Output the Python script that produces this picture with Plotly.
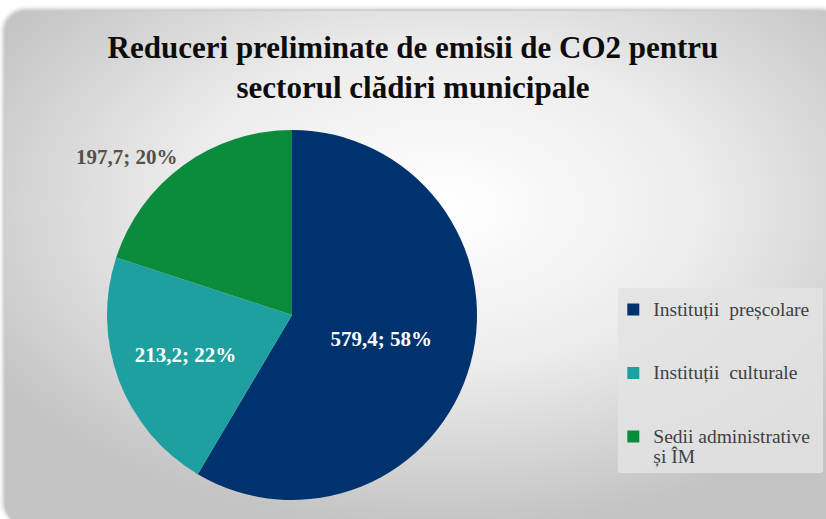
import base64
import plotly.graph_objects as go

# ---- data ----
labels = ["Instituții  preșcolare", "Instituții  culturale", "Sedii administrative<br>și ÎM"]
values = [579.4, 213.2, 197.7]
value_text = ["579,4", "213,2", "197,7"]
percent_text = ["58%", "22%", "20%"]
colors = ["#00336E", "#1FA0A0", "#0B8C3C"]
title_lines = ["Reduceri preliminate de emisii de CO2 pentru", "sectorul clădiri municipale"]

W, H = 826, 519

# background card with radial gradient (decoration)
svg = f'''<svg xmlns="http://www.w3.org/2000/svg" width="{W}" height="{H}" viewBox="0 0 {W} {H}">
<defs>
<radialGradient id="g" cx="0.52" cy="0.38" r="0.62">
<stop offset="0" stop-color="#FFFFFF"/>
<stop offset="0.5" stop-color="#ECECEC"/>
<stop offset="1" stop-color="#C4C4C4"/>
</radialGradient>
<filter id="s" x="-5%" y="-5%" width="110%" height="110%"><feGaussianBlur stdDeviation="2"/></filter>
</defs>
<rect x="3" y="9" width="840" height="515" rx="22" ry="22" fill="#BDBDBD" filter="url(#s)"/>
<rect x="5" y="11" width="840" height="515" rx="22" ry="22" fill="url(#g)"/>
<rect x="618" y="288" width="205" height="185" rx="3" fill="#E3E3E3" opacity="0.85"/>
</svg>'''
src = "data:image/svg+xml;base64," + base64.b64encode(svg.encode()).decode()

texts = [f"<b>{v}; {p}</b>" for v, p in zip(value_text, percent_text)]
legend_labels = [f'<span style="font-size:19.5px">{labels[0]}</span><br> <br> ',
                 f'<span style="font-size:19.5px">{labels[1]}</span><br> <br> ',
                 f'<span style="font-size:19.5px">{labels[2]}</span>']

fig = go.Figure(go.Pie(
    labels=legend_labels,
    values=values,
    text=texts,
    textinfo="text",
    sort=False,
    direction="clockwise",
    rotation=0,
    marker=dict(colors=colors, line=dict(width=0)),
    textposition=["inside", "inside", "outside"],
    insidetextorientation="horizontal",
    insidetextfont=dict(family="Liberation Serif", size=21, color="white"),
    outsidetextfont=dict(family="Liberation Serif", size=21, color="#55504C"),
    domain=dict(x=[(292 - 185) / W, (292 + 185) / W], y=[19 / H, 389 / H]),
    hoverinfo="value+percent",
))

fig.update_layout(
    width=W, height=H,
    margin=dict(l=0, r=0, t=0, b=0),
    paper_bgcolor="white",
    plot_bgcolor="rgba(0,0,0,0)",
    images=[dict(source=src, xref="paper", yref="paper", x=0, y=1, sizex=1, sizey=1,
                 xanchor="left", yanchor="top", sizing="stretch", layer="below")],
    title=dict(text="<br>".join(title_lines), x=0.5, xanchor="center", y=1 - 58 / H, yanchor="top",
               font=dict(family="Liberation Serif", size=31, color="#0D0D0D", weight="bold")),
    legend=dict(x=0.7425, y=1 - 293 / H, xanchor="left", yanchor="top", bgcolor="rgba(0,0,0,0)",
                font=dict(family="Liberation Serif", size=15.5, color="#404040"),
                valign="top", itemwidth=30, tracegroupgap=0),
    showlegend=True,
)

fig.write_html("out.html", config={"displayModeBar": False},
               post_script="document.body.style.margin='0';document.body.style.overflow='hidden';")
